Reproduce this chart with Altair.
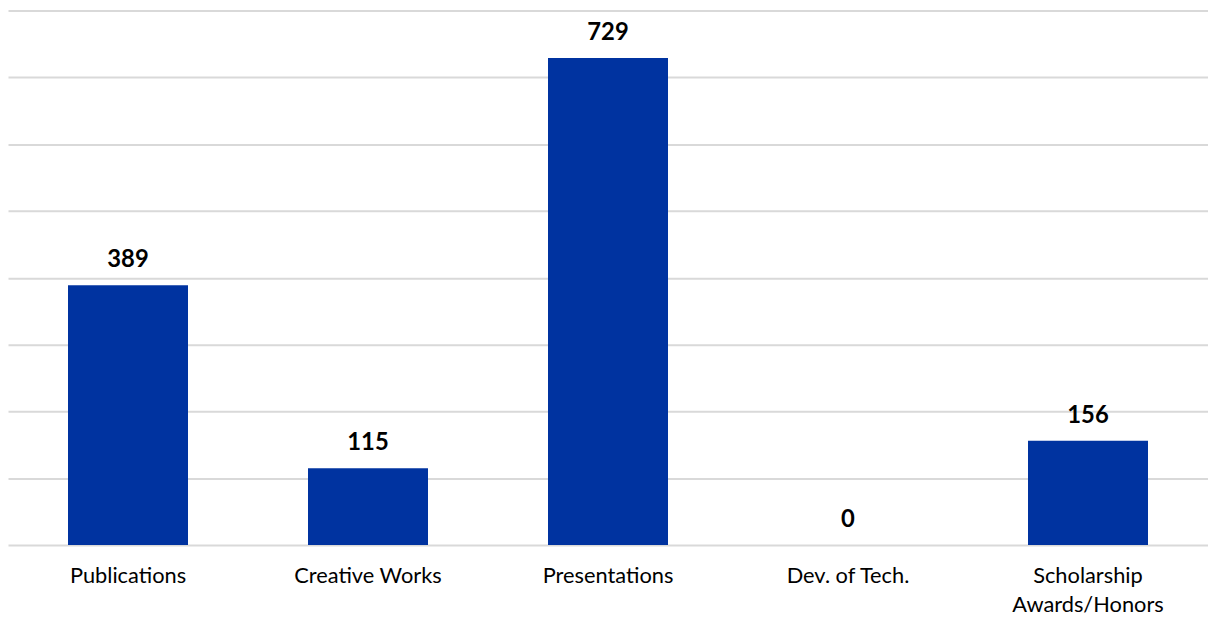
import altair as alt
import pandas as pd

categories = ["Publications", "Creative Works", "Presentations", "Dev. of Tech.", "Scholarship Awards/Honors"]
values = [389, 115, 729, 0, 156]

df = pd.DataFrame({"category": categories, "value": values})

x = alt.X("category:N", sort=categories, title=None,
          scale=alt.Scale(paddingInner=0.5, paddingOuter=0.25, range=[0, 1210]),
          axis=alt.Axis(labelAngle=0, ticks=False, domain=False, labelPadding=21,
                        labelFont="Lato", labelFontSize=22, labelColor="#000000",
                        labelLineHeight=29,
                        labelExpr="datum.label == 'Scholarship Awards/Honors' ? ['Scholarship', 'Awards/Honors'] : datum.label"))
y = alt.Y("value:Q", title=None, scale=alt.Scale(domain=[0, 800], nice=False),
          axis=alt.Axis(values=list(range(0, 801, 100)), labels=False, ticks=False, domain=False,
                        gridColor="#d9d9d9", gridWidth=2))

bars = alt.Chart(df).mark_bar(color="#0033A0").encode(x=x, y=y)
text = alt.Chart(df).mark_text(baseline="bottom", dy=-13, font="Lato", fontSize=24,
                               fontWeight="bold", color="#000000").encode(
    x=alt.X("category:N", sort=categories), y="value:Q", text="value:Q")

chart = (bars + text).properties(width=1200, height=539, padding=0).configure_view(stroke=None)

chart.save("out.html", embed_options={"renderer": "svg", "actions": False})
